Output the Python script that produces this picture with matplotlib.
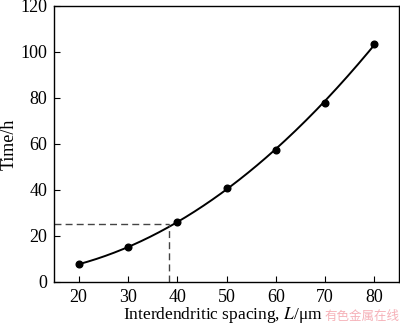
import numpy as np
import matplotlib
matplotlib.use("Agg")
import matplotlib.pyplot as plt

# data
spacing = [20, 30, 40, 50, 60, 70, 80]
time_h = [7.7, 15.0, 26.0, 41.0, 57.5, 78.0, 103.5]
ref_x = 38.3
ref_y = 25.3

plt.rcParams["font.family"] = ["Liberation Serif", "DejaVu Serif"]
plt.rcParams["mathtext.fontset"] = "stix"

fig = plt.figure(figsize=(4.0, 3.26), dpi=100)
ax = fig.add_axes([0.135, 0.135, 0.8625, 0.847])

# smooth fitted curve
coef = np.polyfit(spacing, time_h, 2)
xs = np.linspace(spacing[0], spacing[-1], 200)
ax.plot(xs, np.polyval(coef, xs), color="black", lw=1.4)
ax.plot(spacing, time_h, "o", color="black", ms=4.8)

# reference dashed lines
ax.plot([15, ref_x], [ref_y, ref_y], ls=(0, (5, 3)), color="#444444", lw=1.0)
ax.plot([ref_x, ref_x], [0, ref_y], ls=(0, (5, 3)), color="#444444", lw=1.0)

ax.set_xlim(15, 85)
ax.set_ylim(0, 120)
ax.set_xticks(spacing)
ax.set_yticks(range(0, 121, 20))
ax.tick_params(direction="in", labelsize=13, length=4, width=0.8, pad=5)
for s in ax.spines.values():
    s.set_linewidth(1.0)

ax.set_xlabel("Interdendritic spacing, $L$/\u03bcm", fontsize=12.5, va="center")
ax.xaxis.set_label_coords(0.49, -0.12)
ax.set_ylabel("Time/h", fontsize=13, va="center")
ax.yaxis.set_label_coords(-0.13, 0.5)

fig.text(0.812, 0.018, "有色金属在线", color="#f4a3ab", fontsize=9,
         family=["Noto Sans CJK SC", "DejaVu Sans"], alpha=0.85)

fig.savefig("out.png", dpi=100)
